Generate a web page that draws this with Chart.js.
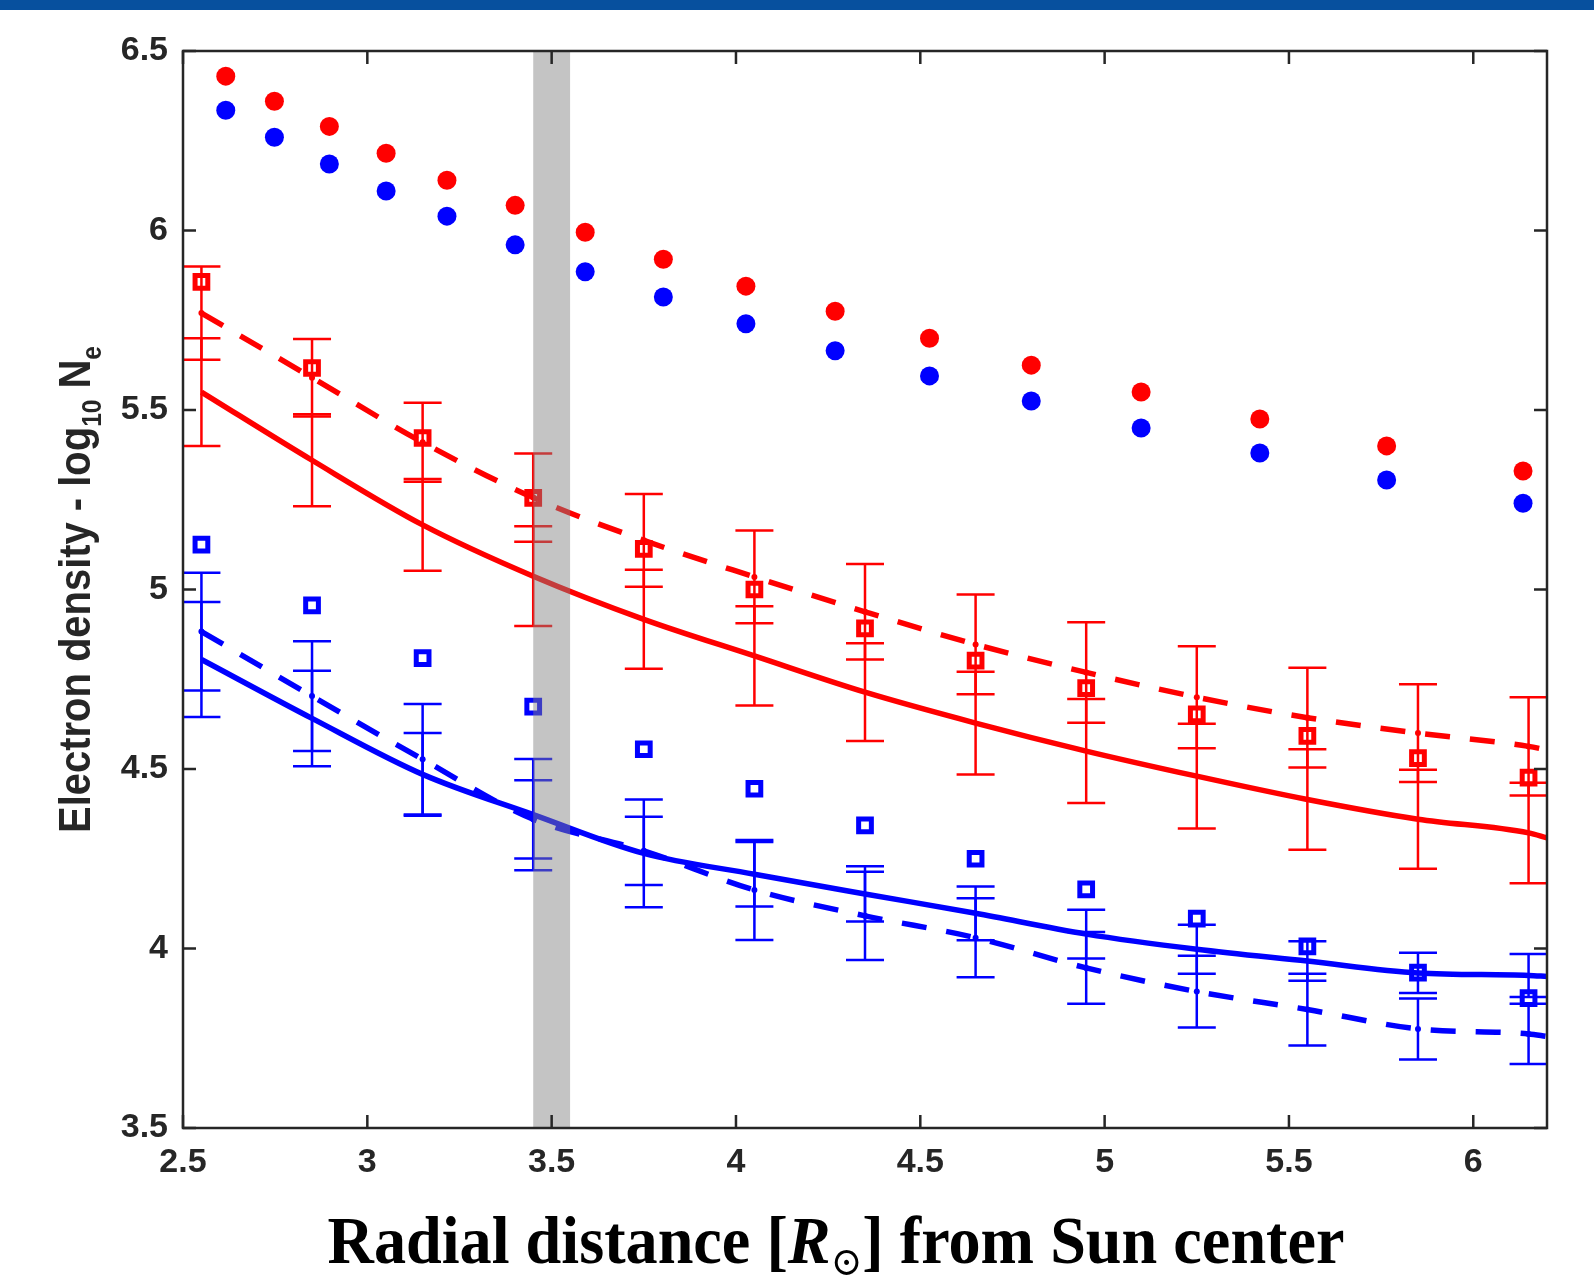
<!DOCTYPE html>
<html lang="en">
<head>
    <meta charset="UTF-8">
    <title>Electron density vs radial distance</title>
    <script src="https://cdn.jsdelivr.net/npm/chart.js"></script>
    <style>
        body {
            margin: 0;
            background: #fff;
        }

        .top-bar {
            position: absolute;
            left: 0;
            top: 0;
            width: 1594px;
            height: 10px;
            background: #07509e;
        }

        .chart-box {
            position: absolute;
            left: 0;
            top: 0;
            width: 1594px;
            height: 1275px;
        }
    </style>
</head>
<body>
    <div class="chart-box"><canvas id="densityChart"></canvas></div>
    <div class="top-bar"></div>

    <script>
        // Axis ticks
        const xTicks = [2.5, 3, 3.5, 4, 4.5, 5, 5.5, 6];
        const yTicks = [3.5, 4, 4.5, 5, 5.5, 6, 6.5];

        // Shaded interval on the x axis
        const bandX = [3.45, 3.55];

        // Filled dots
        const dotX = [2.616, 2.748, 2.897, 3.051, 3.216, 3.401, 3.591, 3.803, 4.027, 4.269, 4.525, 4.801, 5.099, 5.421, 5.765, 6.135];
        const redDots = [6.43, 6.36, 6.29, 6.215, 6.14, 6.07, 5.995, 5.92, 5.845, 5.775, 5.70, 5.625, 5.55, 5.475, 5.40, 5.33];
        const blueDots = [6.335, 6.26, 6.185, 6.11, 6.04, 5.96, 5.885, 5.815, 5.74, 5.665, 5.595, 5.525, 5.45, 5.38, 5.305, 5.24];

        // Open squares
        const sampleX = [2.55, 2.85, 3.15, 3.45, 3.75, 4.05, 4.35, 4.65, 4.95, 5.25, 5.55, 5.85, 6.15];
        const redSquares = [5.857, 5.617, 5.422, 5.255, 5.113, 5.0, 4.892, 4.802, 4.725, 4.652, 4.592, 4.53, 4.476];
        const blueSquares = [5.125, 4.956, 4.809, 4.674, 4.555, 4.445, 4.343, 4.25, 4.165, 4.083, 4.006, 3.933, 3.862];

        // Model curves (last point is the axis end) and their error bars
        const lineX = [2.55, 2.85, 3.15, 3.45, 3.75, 4.05, 4.35, 4.65, 4.95, 5.25, 5.55, 5.85, 6.15, 6.2];
        const redSolid = [5.55, 5.36, 5.18, 5.037, 4.917, 4.815, 4.714, 4.628, 4.55, 4.48, 4.415, 4.36, 4.322, 4.308];
        const redSolidErr = [0.15, 0.128, 0.128, 0.139, 0.138, 0.138, 0.136, 0.143, 0.145, 0.146, 0.14, 0.138, 0.14];
        const redDashed = [5.77, 5.59, 5.41, 5.256, 5.137, 5.035, 4.938, 4.847, 4.769, 4.70, 4.643, 4.60, 4.563, 4.553];
        const redDashedErr = [0.13, 0.108, 0.11, 0.123, 0.129, 0.129, 0.133, 0.139, 0.14, 0.142, 0.139, 0.136, 0.137];
        const blueSolid = [4.805, 4.641, 4.485, 4.373, 4.265, 4.207, 4.152, 4.098, 4.04, 3.998, 3.965, 3.932, 3.925, 3.922];
        const blueSolidErr = [0.16, 0.133, 0.115, 0.155, 0.15, 0.09, 0.077, 0.075, 0.068, 0.068, 0.055, 0.056, 0.06];
        const blueDashed = [4.883, 4.703, 4.527, 4.36, 4.272, 4.163, 4.091, 4.03, 3.946, 3.88, 3.83, 3.776, 3.762, 3.755];
        const blueDashedErr = [0.164, 0.153, 0.154, 0.109, 0.095, 0.139, 0.123, 0.11, 0.10, 0.10, 0.10, 0.085, 0.084];

        const RED = '#ff0000';
        const BLUE = '#0000ff';
        const AXIS = '#262626';
        const CAP = 19;

        const pts = (xs, ys) => ys.map((v, i) => ({ x: xs[i], y: v }));

        function markers(xs, ys, color, open) {
            return {
                data: pts(xs, ys),
                showLine: false,
                pointStyle: open ? 'rect' : 'circle',
                pointRadius: open ? 9 : 9.5,
                pointBorderWidth: open ? 5 : 0,
                pointBorderColor: color,
                pointBackgroundColor: open ? 'rgba(0,0,0,0)' : color,
                borderColor: color
            };
        }

        function curve(ys, errs, color, dashed) {
            return {
                data: pts(lineX, ys),
                errors: errs,
                borderColor: color,
                borderWidth: 5.5,
                borderDash: dashed ? [25, 20] : [],
                borderCapStyle: 'butt',
                fill: false,
                cubicInterpolationMode: 'monotone',
                pointRadius: dashed ? ys.map((v, i) => i < errs.length ? 3 : 0) : 0,
                pointBackgroundColor: color,
                pointBorderWidth: 0
            };
        }

        // error bars under the curves
        const errorBars = {
            id: 'errorBars',
            beforeDatasetsDraw(chart) {
                const { ctx, chartArea: a, scales: { x, y } } = chart;
                ctx.save();
                ctx.beginPath();
                ctx.rect(a.left, a.top, a.right - a.left, a.bottom - a.top);
                ctx.clip();
                ctx.lineWidth = 2.5;
                chart.data.datasets.forEach(ds => {
                    if (!ds.errors) return;
                    ctx.strokeStyle = ds.borderColor;
                    ds.errors.forEach((e, i) => {
                        const p = ds.data[i];
                        const px = x.getPixelForValue(p.x);
                        const top = y.getPixelForValue(p.y + e);
                        const bot = y.getPixelForValue(p.y - e);
                        ctx.beginPath();
                        ctx.moveTo(px, top);
                        ctx.lineTo(px, bot);
                        ctx.moveTo(px - CAP, top);
                        ctx.lineTo(px + CAP, top);
                        ctx.moveTo(px - CAP, bot);
                        ctx.lineTo(px + CAP, bot);
                        ctx.stroke();
                    });
                });
                ctx.restore();
            }
        };

        // translucent gray band over the data
        const shadedBand = {
            id: 'shadedBand',
            afterDatasetsDraw(chart) {
                const { ctx, chartArea: a, scales: { x } } = chart;
                const x0 = x.getPixelForValue(bandX[0]);
                const x1 = x.getPixelForValue(bandX[1]);
                ctx.save();
                ctx.fillStyle = 'rgba(128,128,128,0.465)';
                ctx.fillRect(x0, a.top, x1 - x0, a.bottom - a.top);
                ctx.restore();
            }
        };

        // box with inward ticks on all four sides
        const boxFrame = {
            id: 'boxFrame',
            afterDraw(chart) {
                const { ctx, chartArea: a, scales: { x, y } } = chart;
                const len = 13;
                ctx.save();
                ctx.strokeStyle = AXIS;
                ctx.lineWidth = 2.5;
                ctx.strokeRect(a.left, a.top, a.right - a.left, a.bottom - a.top);
                ctx.beginPath();
                xTicks.forEach(v => {
                    const px = x.getPixelForValue(v);
                    ctx.moveTo(px, a.bottom);
                    ctx.lineTo(px, a.bottom - len);
                    ctx.moveTo(px, a.top);
                    ctx.lineTo(px, a.top + len);
                });
                yTicks.forEach(v => {
                    const py = y.getPixelForValue(v);
                    ctx.moveTo(a.left, py);
                    ctx.lineTo(a.left + len, py);
                    ctx.moveTo(a.right, py);
                    ctx.lineTo(a.right - len, py);
                });
                ctx.stroke();
                ctx.restore();
            }
        };

        // text runs with subscript pieces, squeezed to a target length
        function drawRuns(ctx, runs, length) {
            let total = 0;
            runs.forEach(r => {
                ctx.font = r.font;
                r.w = ctx.measureText(r.text).width;
                total += r.w;
            });
            ctx.scale(length / total, 1);
            let cx = -total / 2;
            ctx.textBaseline = 'alphabetic';
            ctx.textAlign = 'left';
            runs.forEach(r => {
                ctx.font = r.font;
                ctx.fillText(r.text, cx, r.dy);
                cx += r.w;
            });
        }

        const SANS = '"Liberation Sans", Arial, Helvetica, sans-serif';
        const SERIF = '"Liberation Serif", "Times New Roman", "DejaVu Serif", serif';

        const axisTitles = {
            id: 'axisTitles',
            afterDraw(chart) {
                const { ctx, chartArea: a } = chart;
                ctx.save();
                ctx.fillStyle = AXIS;
                ctx.translate(90, (a.top + a.bottom) / 2);
                ctx.rotate(-Math.PI / 2);
                drawRuns(ctx, [
                    { text: 'Electron density - log', font: 'bold 44px ' + SANS, dy: 0 },
                    { text: '10', font: 'bold 27px ' + SANS, dy: 11 },
                    { text: ' N', font: 'bold 44px ' + SANS, dy: 0 },
                    { text: 'e', font: 'bold 27px ' + SANS, dy: 11 }
                ], 487);
                ctx.restore();

                ctx.save();
                ctx.fillStyle = '#000';
                ctx.translate(836, 1263);
                drawRuns(ctx, [
                    { text: 'Radial distance [', font: 'bold 68px ' + SERIF, dy: 0 },
                    { text: 'R', font: 'italic bold 68px ' + SERIF, dy: 0 },
                    { text: '\u2299', font: '40px "DejaVu Serif", serif', dy: 12 },
                    { text: '] from Sun center', font: 'bold 68px ' + SERIF, dy: 0 }
                ], 1017);
                ctx.restore();
            }
        };

        const tickFont = { family: SANS, size: 34, weight: 'bold' };

        new Chart(document.getElementById('densityChart'), {
            type: 'line',
            data: {
                datasets: [
                    markers(sampleX, redSquares, RED, true),
                    markers(sampleX, blueSquares, BLUE, true),
                    markers(dotX, redDots, RED, false),
                    markers(dotX, blueDots, BLUE, false),
                    curve(redSolid, redSolidErr, RED, false),
                    curve(redDashed, redDashedErr, RED, true),
                    curve(blueSolid, blueSolidErr, BLUE, false),
                    curve(blueDashed, blueDashedErr, BLUE, true)
                ]
            },
            options: {
                responsive: true,
                maintainAspectRatio: false,
                animation: false,
                events: [],
                layout: { padding: { top: 51, right: 47, left: 0, bottom: 0 } },
                plugins: {
                    legend: { display: false },
                    tooltip: { enabled: false }
                },
                scales: {
                    x: {
                        type: 'linear',
                        min: 2.5,
                        max: 6.2,
                        afterBuildTicks: s => { s.ticks = xTicks.map(v => ({ value: v })); },
                        afterFit: s => { s.height = 147; },
                        grid: { display: false, drawTicks: false },
                        border: { display: false },
                        ticks: {
                            color: AXIS,
                            font: tickFont,
                            padding: 14,
                            maxRotation: 0,
                            autoSkip: false,
                            callback: v => String(v)
                        }
                    },
                    y: {
                        type: 'linear',
                        min: 3.5,
                        max: 6.5,
                        afterBuildTicks: s => { s.ticks = yTicks.map(v => ({ value: v })); },
                        afterFit: s => { s.width = 183; },
                        grid: { display: false, drawTicks: false },
                        border: { display: false },
                        ticks: {
                            color: AXIS,
                            font: tickFont,
                            padding: 15,
                            autoSkip: false,
                            callback: v => String(v)
                        }
                    }
                }
            },
            plugins: [errorBars, shadedBand, boxFrame, axisTitles]
        });
    </script>
</body>
</html>
